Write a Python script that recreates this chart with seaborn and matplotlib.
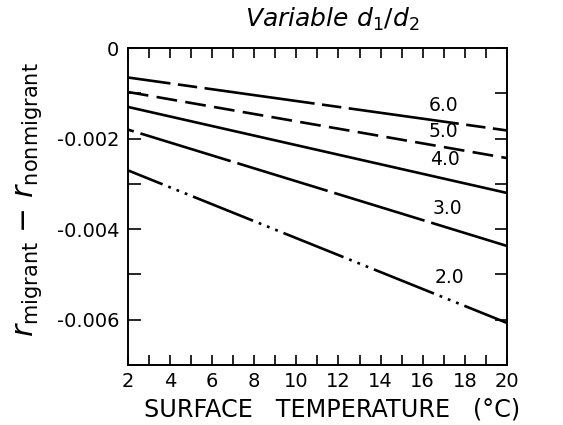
import matplotlib
matplotlib.use("Agg")
import matplotlib.pyplot as plt
import seaborn as sns
import pandas as pd
from matplotlib.ticker import MultipleLocator, FixedLocator

sns.set_theme(style="white")
plt.rcParams['font.family'] = ['DejaVu Sans']
plt.rcParams['mathtext.fontset'] = 'dejavusans'
plt.rcParams['lines.scale_dashes'] = False

# Data
temps = [2, 20]
ratio_labels = ["6.0", "5.0", "4.0", "3.0", "2.0"]
r60 = [-0.00065, -0.00182]
r50 = [-0.00097, -0.00243]
r40 = [-0.00130, -0.00320]
r30 = [-0.00180, -0.00437]
r20 = [-0.00270, -0.00607]
series = [r60, r50, r40, r30, r20]
label_x = [17.0, 17.0, 17.05, 17.15, 17.25]
label_y = [-0.00128, -0.00184, -0.00247, -0.00355, -0.00507]

x_ticks = [2, 4, 6, 8, 10, 12, 14, 16, 18, 20]
y_ticks = [0, -0.002, -0.004, -0.006]
y_ticklabels = ["0", "-0.002", "-0.004", "-0.006"]

styles = [
    (49, (80, 5.4, 14, 5.4)),                     # long-short
    (0, (15, 6)),                                  # dashed
    "solid",
    (63.5, (68, 5)),                               # long dash
    (19.6, (46.6, 4.4, 2, 4.4, 2, 4.4, 2, 4.4)),   # dash-dot-dot-dot
]

fig = plt.figure(figsize=(5.63, 4.25), dpi=100)
ax = fig.add_axes([0.227, 0.141, 0.6735, 0.746])

for lab, vals, ls in zip(ratio_labels, series, styles):
    df = pd.DataFrame({"T": temps, "r": vals})
    sns.lineplot(data=df, x="T", y="r", ax=ax, color="black", lw=1.9)
    ax.lines[-1].set_linestyle(ls)
    ax.lines[-1].set_solid_capstyle("butt")
    ax.lines[-1].set_dash_capstyle("butt")

for lab, lx, ly in zip(ratio_labels, label_x, label_y):
    ax.text(lx, ly, lab, ha="center", va="center", fontsize=13.5, color="black")

ax.set_xlim(2, 20)
ax.set_ylim(-0.007, 0)
ax.xaxis.set_major_locator(FixedLocator(x_ticks))
ax.xaxis.set_minor_locator(MultipleLocator(1))
ax.yaxis.set_major_locator(FixedLocator(y_ticks))
ax.set_yticklabels(y_ticklabels)
ax.yaxis.set_minor_locator(MultipleLocator(0.001))
ax.set_xticklabels([str(t) for t in x_ticks])

ax.tick_params(axis="both", which="both", direction="in", color="black",
               width=1.2, labelsize=14, labelcolor="black")
ax.tick_params(axis="x", which="both", top=True, bottom=True, length=7, pad=5)
ax.tick_params(axis="y", which="both", left=True, right=True, length=9, pad=6)

for sp in ax.spines.values():
    sp.set_visible(True)
    sp.set_color("black")
    sp.set_linewidth(1.4)

ax.set_xlabel("")
ax.set_ylabel("")
fig.text(0.59, 0.036, "SURFACE   TEMPERATURE   (°C)", ha="center", va="center",
         fontsize=17.2, color="black")
fig.text(0.052, 0.53, r"$r_{\mathrm{migrant}}$ − $r_{\mathrm{nonmigrant}}$",
         rotation=90, ha="center", va="center", fontsize=21.5, color="black")
fig.text(0.59, 0.955, r"$\mathit{Variable}\ d_{1}/d_{2}$", ha="center", va="center",
         fontsize=18, color="black")

fig.savefig("out.png", dpi=100, facecolor="white")
